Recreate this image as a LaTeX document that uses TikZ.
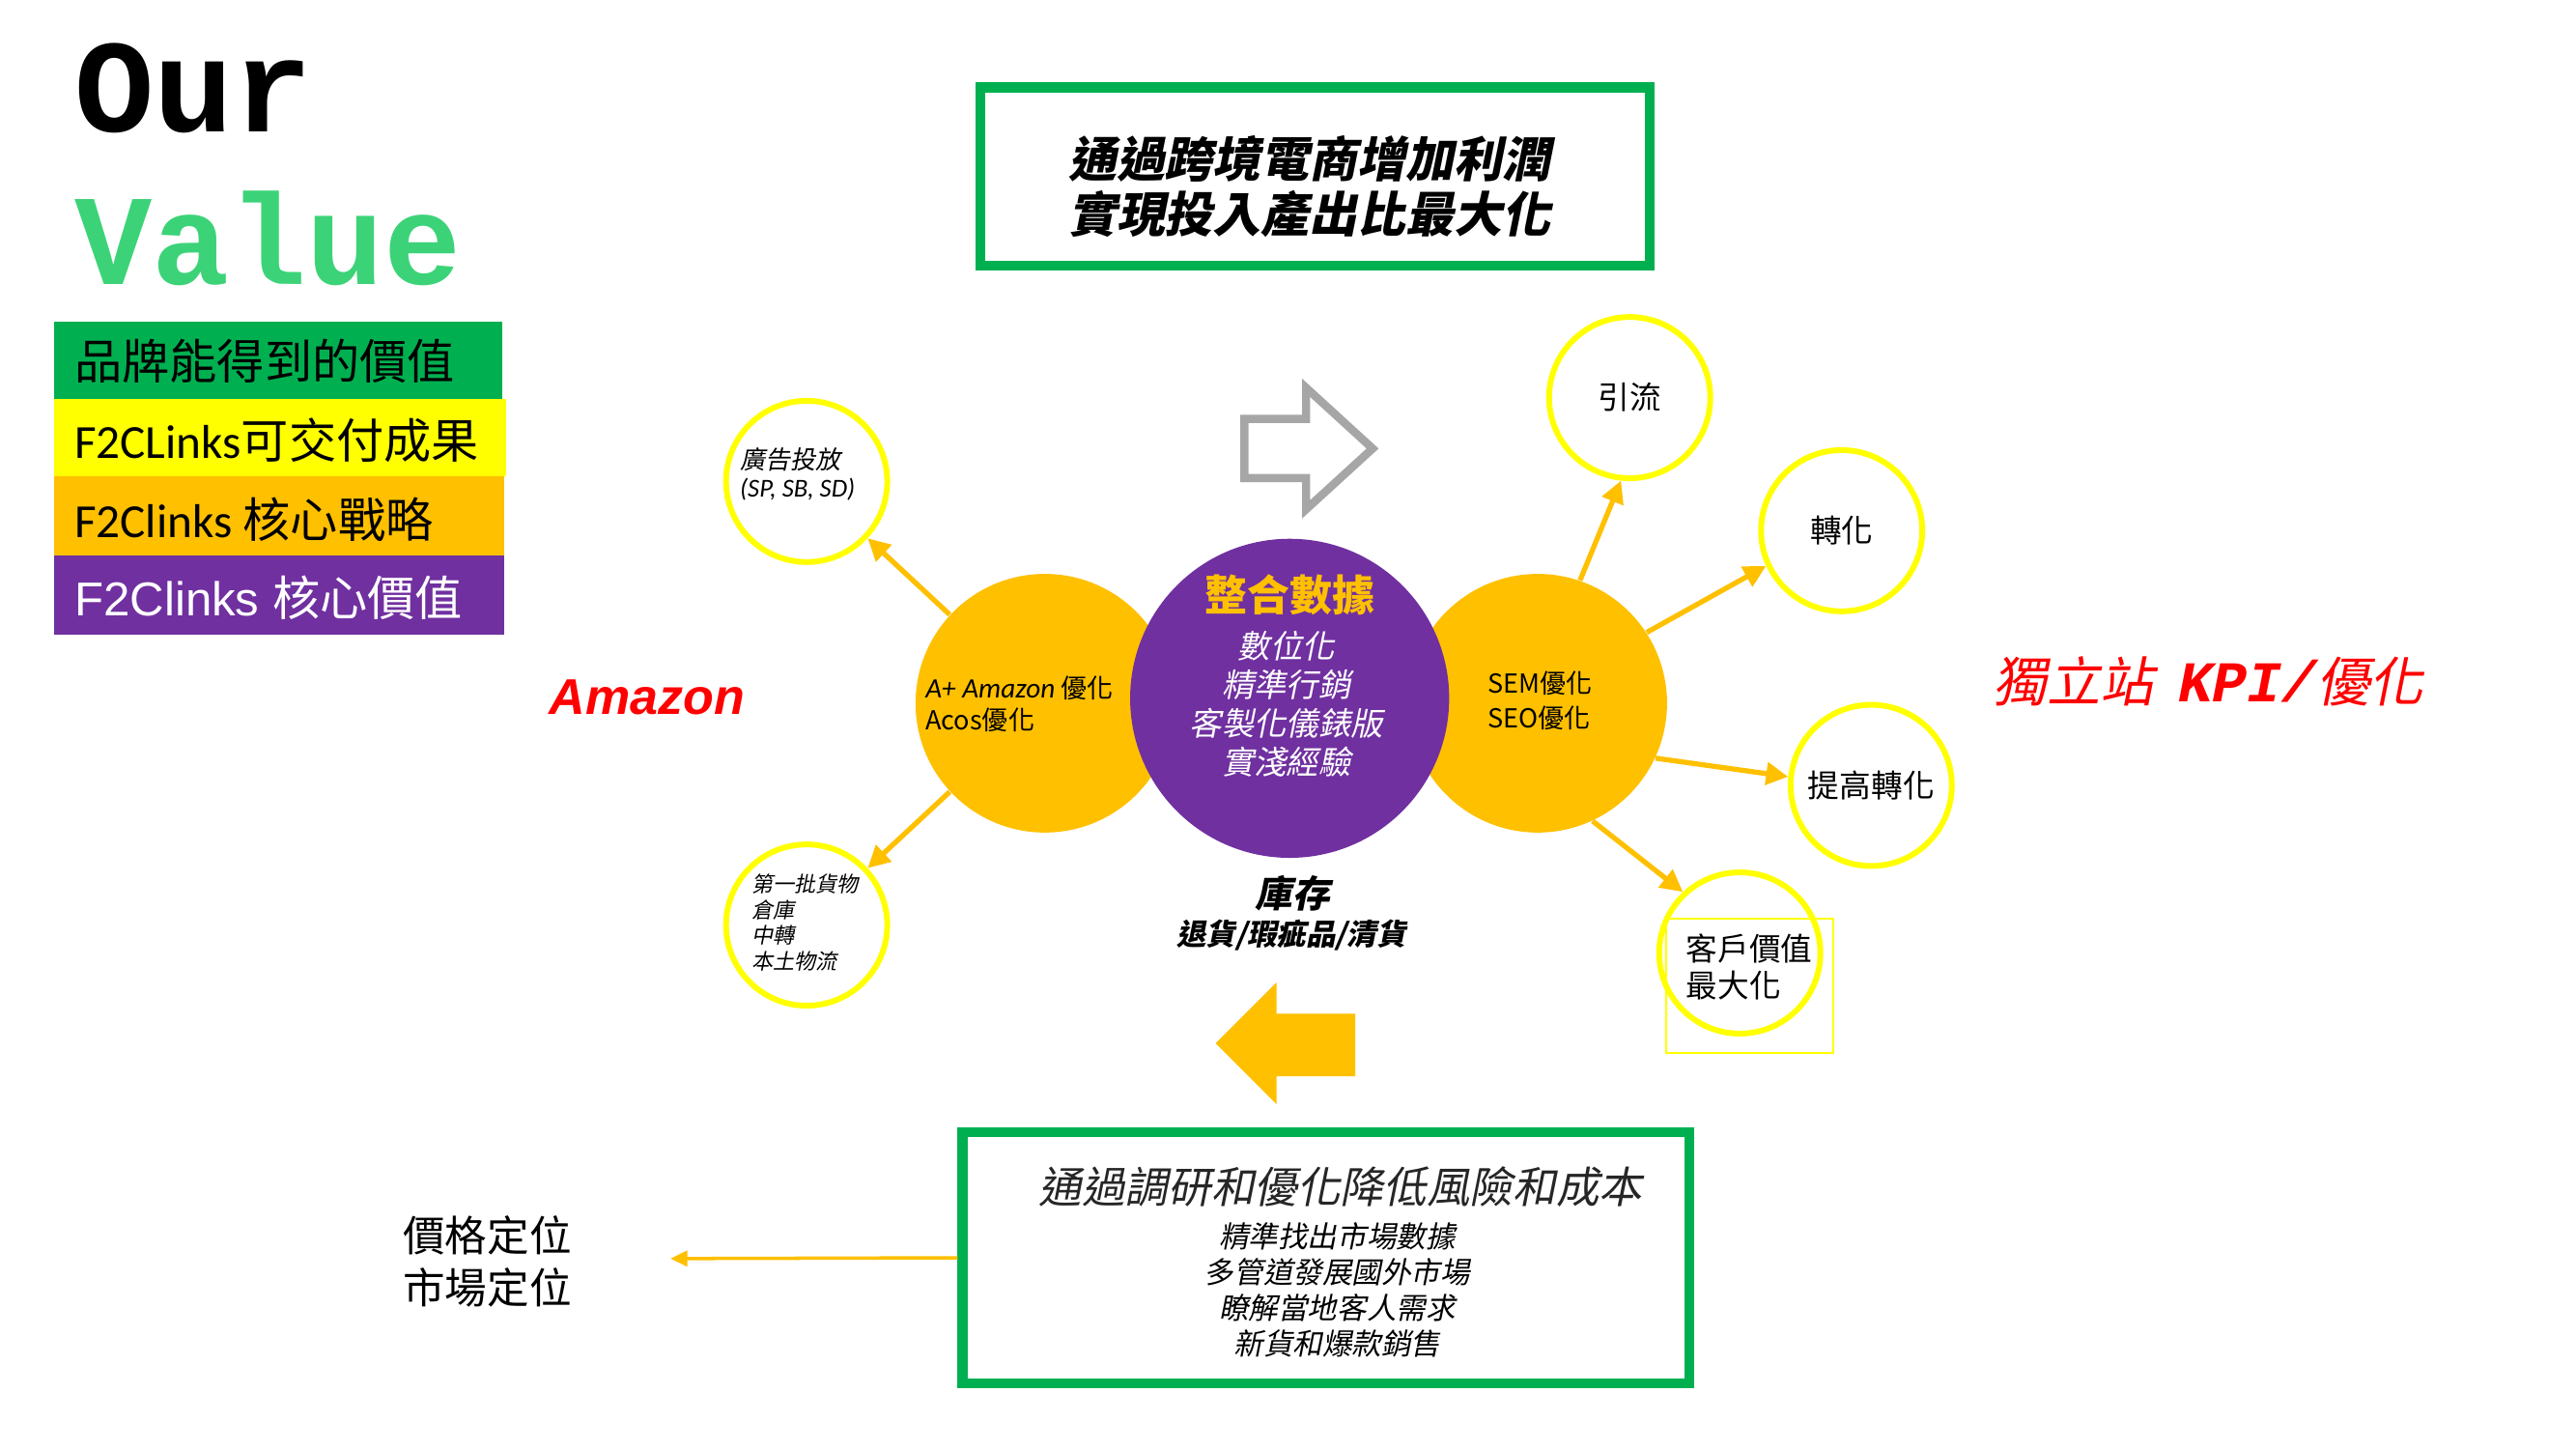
\documentclass[tikz,border=0pt]{standalone}
\usepackage{fontspec}
\setmainfont{Noto Sans CJK TC}
\newfontfamily\itf{Noto Sans CJK TC}[FakeSlant=0.2]
\newfontfamily\monof{Liberation Mono}
\newfontfamily\arialf{Liberation Sans}
\newfontfamily\calf{Carlito}
\usetikzlibrary{arrows.meta}
\definecolor{grn}{HTML}{00B050}
\definecolor{vgrn}{HTML}{3CD378}
\definecolor{yel}{HTML}{FFFF00}
\definecolor{org}{HTML}{FFC000}
\definecolor{pur}{HTML}{7030A0}
\definecolor{gry}{HTML}{A6A6A6}
\definecolor{dk}{HTML}{262626}
\newcommand\fs[2]{\fontsize{#1pt}{#2pt}\selectfont}
\begin{document}
\begin{tikzpicture}[x=0.017009cm,y=-0.017009cm,
  ycirc/.style={circle,draw=yel,line width=1.7pt,fill=white,minimum size=47.5pt,inner sep=0pt,font=\fs{9.3}{11}},
  ocirc/.style={circle,fill=org,minimum size=76.2pt,inner sep=0pt},
  oarr/.style={draw=org,line width=1.5pt,-{Triangle[length=6.5pt,width=6.5pt]}},
  gbox/.style={draw=grn,line width=2.9pt,inner sep=0pt,fill=white},
  txt/.style={inner sep=0pt,text=black},
  legbox/.style={inner sep=0pt,anchor=north west}
]
\useasboundingbox (0,0) rectangle (1568,882);
\fill[white] (0,0) rectangle (1568,882);

% title
\node[txt,anchor=base west,font=\monof\bfseries\fs{39}{39}] (our) at (45,80) {Our};
\node[txt,anchor=base west,font=\monof\bfseries\fs{38}{38},text=vgrn] (val) at (45,173) {Value};

% legend
\fill[grn] (33,196) rectangle (306,243);
\fill[yel] (33,243) rectangle (308,290);
\fill[org] (33,290) rectangle (307,338);
\fill[pur] (33,338) rectangle (307,386);
\node[txt,anchor=west,font=\fs{14}{14}] (lg1) at (45,220) {品牌能得到的價值};
\node[txt,anchor=west,font=\fs{14}{14}] (lg2) at (45,268) {{\calf F2CLinks}可交付成果};
\node[txt,anchor=west,font=\fs{14}{14}] (lg3) at (45,316) {{\calf F2Clinks }核心戰略};
\node[txt,anchor=west,font=\fs{14}{14},text=white] (lg4) at (45,364) {{\arialf F2Clinks }核心價值};

% top box
\node[gbox,minimum width=197.2pt,minimum height=52.6pt] (tbox) at (800.5,107.5) {};
\node[txt,align=center,font=\itf\bfseries\fs{14.2}{16}] (ttxt) at (797,113.5) {通過跨境電商增加利潤\\實現投入產出比最大化};

% gray arrow
\draw[draw=gry,line width=2.4pt,fill=white,line join=miter]
  (757.5,255) -- (795,255) -- (795,236) -- (835.5,273) -- (795,310) -- (795,291) -- (757.5,291) -- cycle;

% yellow arrow
\fill[org] (740,635) -- (777,598) -- (777,617) -- (825,617) -- (825,655) -- (777,655) -- (777,672) -- cycle;

% orange + purple circles
\node[ocirc] (lo) at (636,428) {};
\node[ocirc] (ro) at (936,428) {};
\node[circle,fill=pur,minimum size=94pt,inner sep=0pt] (pc) at (785,425) {};

\node[txt,font=\bfseries\fs{12.5}{12.5},text=org] (zhs) at (785,362) {整合數據};
\node[txt,align=center,font=\itf\fs{9.5}{11.4},text=white] (plst) at (783,428.5) {數位化\\精準行銷\\客製化儀錶版\\實淺經驗};

\node[txt,anchor=west,align=left,font=\fs{7.7}{9.2}] (lot) at (563,428.5) {{\calf\itshape\fs{8.3}{9.2}A+ Amazon} 優化\\Acos優化};
\node[txt,anchor=west,align=left,font=\fs{7.7}{10.1}] (rot) at (905,426.5) {SEM優化\\SEO優化};

% yellow circles
\node[ycirc] (ad) at (491,293) {};
\node[txt,anchor=west,align=left,font=\itf\fs{7.4}{8.2}] (adt) at (450,288.5) {廣告投放\\{\calf\itshape\fs{7.6}{8.2}(SP, SB, SD)}};
\node[ycirc] (fb) at (491,563) {};
\node[txt,anchor=west,align=left,font=\itf\fs{6.3}{7.6}] (fbt) at (457,561.5) {第一批貨物\\倉庫\\中轉\\本土物流};
\node[ycirc] (yl) at (992,242) {引流};
\node[ycirc] (zh) at (1121,323) {轉化};
\node[ycirc] (tg) at (1139,478) {提高轉化};
\node[ycirc] (kh) at (1059,580) {};
\draw[yel,line width=0.5pt] (1014,559) rectangle (1116,641);
\node[txt,anchor=west,align=left,font=\fs{9.3}{11}] (kht) at (1026,588.5) {客戶價值\\最大化};

% arrows
\draw[oarr] (lo) -- (ad);
\draw[oarr] (lo) -- (fb);
\draw[oarr] (ro.71) -- (yl.-96);
\draw[oarr] (ro.33) -- (zh.205);
\draw[oarr] (ro.-25) -- (tg.174);
\draw[oarr] (ro.-65) -- (kh.133);

% side labels
\node[txt,anchor=base west,font=\arialf\bfseries\itshape\fs{14.8}{14.8},text=red] (amz) at (334,434.5) {Amazon};
\node[txt,anchor=west,font=\itf\fs{15.8}{15.8},text=red] (dlz) at (1213,414.5) {獨立站\hspace{7pt}{\monof\bfseries\itshape\fs{17}{17}KPI/}優化};

% inventory
\node[txt,font=\itf\bfseries\fs{11}{11}] (kc) at (787,544) {庫存};
\node[txt,font=\itf\bfseries\fs{8.7}{8.7}] (kc2) at (786,569) {退貨/瑕疵品/清貨};

% bottom box
\node[gbox,minimum width=214.1pt,minimum height=73.8pt] (bbox) at (807,765.5) {};
\node[txt,font=\itf\fs{12.7}{12.7},text=dk] (btt) at (816,722) {通過調研和優化降低風險和成本};
\node[txt,align=center,font=\itf\fs{8.7}{10.6}] (bls) at (814,785) {精準找出市場數據\\多管道發展國外市場\\瞭解當地客人需求\\新貨和爆款銷售};

\coordinate (pe) at (408,766);
\draw[draw=org,line width=1pt,-{Triangle[length=5pt,width=4.5pt]}] (bbox.west) -- (pe);
\node[txt,anchor=west,align=left,font=\fs{12.4}{15.4}] (jg) at (245,768) {價格定位\\市場定位};
\end{tikzpicture}
\end{document}
